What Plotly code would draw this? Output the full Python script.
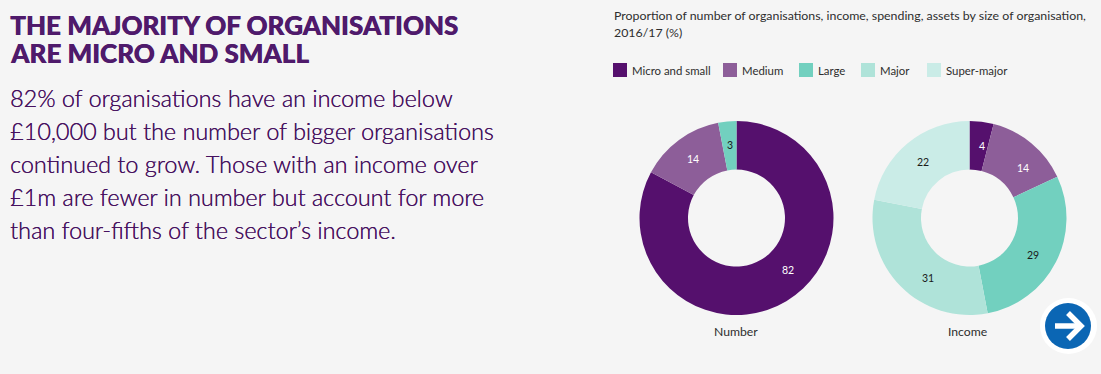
import math
import plotly.graph_objects as go

W, H = 1101, 374
categories = ["Micro and small", "Medium", "Large", "Major", "Super-major"]
colors = ["#55106d", "#8d5e99", "#72d0bf", "#afe3d9", "#caece7"]
number_values = [82, 14, 3, 0, 0]
income_values = [4, 14, 29, 31, 22]
number_text_colors = ["white", "white", "#1a1a1a", "#1a1a1a", "#1a1a1a"]
income_text_colors = ["white", "white", "#1a1a1a", "#1a1a1a", "#1a1a1a"]
title_lines = ["THE MAJORITY OF ORGANISATIONS", "ARE MICRO AND SMALL"]
body_lines = [
    "82% of organisations have an income below",
    "£10,000 but the number of bigger organisations",
    "continued to grow. Those with an income over",
    "£1m are fewer in number but account for more",
    "than four-fifths of the sector’s income.",
]
chart_title_lines = [
    "Proportion of number of organisations, income, spending, assets by size of organisation,",
    "2016/17 (%)",
]

PURPLE = "#4f1a6b"
GREY = "#2e2e2e"
CHART_FONT = "Lato"
RADIUS = 97
LABEL_R = 73
# small angular nudges (degrees) of the value labels, as in the reference
number_nudges = [-14, 0, 0, 0, 0]
income_nudges = [3, 7, 3, -10, 0]


def px(x):
    return x / W


def py(y):
    return 1 - y / H


def label(x, y, text, size, color, family, anchor="left", weight=None, shadow=None):
    font = dict(size=size, color=color, family=family)
    if weight:
        font["weight"] = weight
    if shadow:
        font["shadow"] = shadow
    return dict(
        x=px(x), y=py(y), xref="paper", yref="paper", text=text,
        showarrow=False, xanchor=anchor, yanchor="middle",
        font=font, borderpad=0, borderwidth=0,
    )


def donut(values, cx, cy, name):
    return go.Pie(
        labels=categories, values=values, name=name, sort=False, direction="clockwise", rotation=0,
        hole=0.5, marker=dict(colors=colors, line=dict(width=0)), textinfo="none",
        domain=dict(x=[px(cx - RADIUS), px(cx + RADIUS)], y=[py(cy + RADIUS), py(cy - RADIUS)]),
        showlegend=False,
    )


def value_labels(values, text_colors, nudges, cx, cy):
    out, run, total = [], 0, sum(values)
    for v, c, n in zip(values, text_colors, nudges):
        if v:
            a = math.radians((run + v / 2) / total * 360 + n)
            out.append(label(cx + LABEL_R * math.sin(a), cy - LABEL_R * math.cos(a), str(v), 10.5,
                             c, CHART_FONT, anchor="center"))
        run += v
    return out


NUM_C, INC_C = (736.5, 218), (969.5, 218)
fig = go.Figure([donut(number_values, *NUM_C, "Number"), donut(income_values, *INC_C, "Income")])

ann = []
for y, t in zip([25, 53], title_lines):
    ann.append(label(10, y, t, 26, PURPLE, "Lato", weight=900, shadow=f"0.5px 0 0 {PURPLE}"))
for y, t in zip([98, 131, 164, 197, 230], body_lines):
    ann.append(label(10, y, t, 23.4, "#47115f", "Lato", weight=300, shadow="0.25px 0 0 #47115f"))
for y, t in zip([16, 32], chart_title_lines):
    ann.append(label(613.5, y, t, 12.35, GREY, CHART_FONT))

shapes = []
for x, name, c in zip([613, 723, 799, 861, 927], categories, colors):
    shapes.append(dict(type="rect", xref="paper", yref="paper", x0=px(x), x1=px(x + 14),
                       y0=py(77), y1=py(63), fillcolor=c, line=dict(width=0)))
    ann.append(label(x + 18.5, 70.5, name, 11.4, GREY, CHART_FONT))

ann += value_labels(number_values, number_text_colors, number_nudges, *NUM_C)
ann += value_labels(income_values, income_text_colors, income_nudges, *INC_C)
ann.append(label(736, 331, "Number", 12.2, GREY, CHART_FONT, anchor="center"))
ann.append(label(967, 331, "Income", 12.2, GREY, CHART_FONT, anchor="center"))

# next-page button
shapes.append(dict(type="circle", xref="paper", yref="paper", x0=px(1040), x1=px(1097),
                   y0=py(354), y1=py(298), fillcolor="white", line=dict(width=0), layer="above"))
shapes.append(dict(type="circle", xref="paper", yref="paper", x0=px(1045), x1=px(1091),
                   y0=py(349), y1=py(303), fillcolor="#0b66b4", line=dict(width=0), layer="above"))
for pts in [[(1055, 326), (1080, 326)], [(1068, 313), (1081, 326), (1068, 339)]]:
    d = "M " + " L ".join(f"{px(a)},{py(b)}" for a, b in pts)
    shapes.append(dict(type="path", xref="paper", yref="paper", path=d,
                       line=dict(color="white", width=5.5), layer="above"))

fig.update_layout(
    width=W, height=H, margin=dict(l=0, r=0, t=0, b=0), autosize=False,
    paper_bgcolor="#f5f5f5", plot_bgcolor="#f5f5f5",
    annotations=ann, shapes=shapes, showlegend=False,
)
fig.write_html("out.html", config={"displayModeBar": False},
               post_script="document.body.style.margin='0';document.body.style.overflow='hidden';")
